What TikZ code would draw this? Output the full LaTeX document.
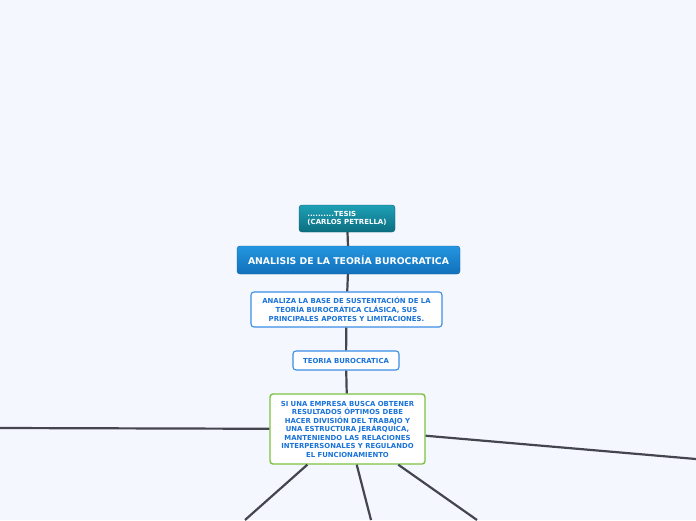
\documentclass[tikz,border=0pt]{standalone}
\usepackage{fontspec}
\setmainfont{DejaVu Sans}[BoldFont={DejaVu Sans Bold}]
\usetikzlibrary{positioning,calc}
\definecolor{bgblue}{RGB}{244,247,254}
\definecolor{tealtop}{RGB}{30,160,182}
\definecolor{tealbot}{RGB}{12,110,128}
\definecolor{tealedge}{RGB}{10,92,108}
\definecolor{maintop}{RGB}{36,150,224}
\definecolor{mainbot}{RGB}{18,112,186}
\definecolor{mainedge}{RGB}{14,96,160}
\definecolor{topicblue}{RGB}{26,115,217}
\definecolor{topicedge}{RGB}{58,142,230}
\definecolor{ideagreen}{RGB}{125,194,66}
\definecolor{linkgray}{RGB}{69,69,80}

\begin{document}
\begin{tikzpicture}[x=1pt, y=-1pt,
    darkbox/.style={draw=tealedge, rounded corners=3pt, top color=tealtop, bottom color=tealbot,
        text=white, font=\bfseries\fontsize{7}{8.2}\selectfont, align=left, inner sep=2pt},
    mainbox/.style={draw=mainedge, rounded corners=3pt, top color=maintop, bottom color=mainbot,
        text=white, font=\bfseries\fontsize{9.3}{10}\selectfont, inner sep=2pt},
    topic/.style={draw=topicedge, line width=1.1pt, rounded corners=3pt, fill=white, text=topicblue,
        font=\bfseries\fontsize{6.9}{9}\selectfont, align=center, inner sep=2pt},
    idea/.style={topic, draw=ideagreen, line width=1.4pt},
    link/.style={draw=linkgray, line width=2.2pt}
]
\fill[bgblue] (0,0) rectangle (696,520);
\useasboundingbox (0,0) rectangle (696,520);

% central chain
\node[darkbox, minimum width=96pt, minimum height=27pt] (tesis) at (347,218.5) {..........TESIS\\(CARLOS PETRELLA)};
\node[mainbox, minimum width=223pt, minimum height=28pt] (analisis) at (348.5,260) {ANALISIS DE LA TEORÍA BUROCRATICA};
\node[topic, minimum width=191pt, minimum height=35pt] (analiza) at (346.5,309.5) {ANALIZA LA BASE DE SUSTENTACIÓN DE LA\\TEORÍA BUROCRÁTICA CLÁSICA, SUS\\PRINCIPALES APORTES Y LIMITACIONES.};
\node[topic, minimum width=106pt, minimum height=19pt] (teoria) at (346,360.5) {TEORIA BUROCRATICA};
\node[idea, minimum width=155pt, minimum height=70pt, font=\bfseries\fontsize{6.9}{8.5}\selectfont] (empresa) at (347.5,429)
    {SI UNA EMPRESA BUSCA OBTENER\\RESULTADOS ÓPTIMOS DEBE\\HACER DIVISIÓN DEL TRABAJO Y\\UNA ESTRUCTURA JERÁRQUICA,\\MANTENIENDO LAS RELACIONES\\INTERPERSONALES Y REGULANDO\\EL FUNCIONAMIENTO};

% branches leaving the page
\coordinate (west end) at (0,428);
\coordinate (east end) at (696,459);
\coordinate (sw end) at (245,520);
\coordinate (s end) at (371,520);
\coordinate (se end) at (477,520);

\draw[link] (tesis) -- (analisis);
\draw[link] (analisis) -- (analiza);
\draw[link] (analiza) -- (teoria);
\draw[link] (teoria) -- (empresa);
\foreach \e in {west end, east end, sw end, s end, se end}
    \draw[link] (empresa) -- (\e);
\end{tikzpicture}
\end{document}
